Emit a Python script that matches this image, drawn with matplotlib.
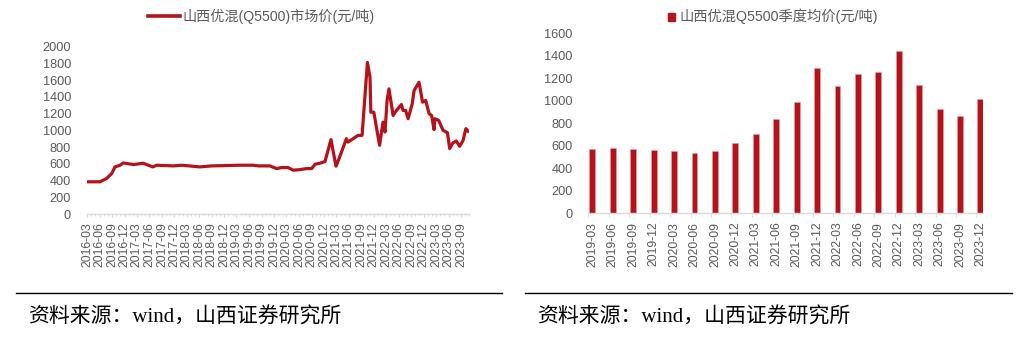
import matplotlib
matplotlib.use("Agg")
import matplotlib.pyplot as plt
import matplotlib.dates as mdates
from matplotlib.lines import Line2D
from matplotlib.patches import Rectangle
import numpy as np
import pandas as pd

# Left chart: Shanxi blended coal (Q5500) market price, yuan/t
price_dates = [
    "2016-03-03", "2016-06-04", "2016-07-23", "2016-08-29", "2016-09-22",
    "2016-10-29", "2016-11-22", "2017-02-05", "2017-04-17", "2017-06-25",
    "2017-07-24", "2017-11-24", "2018-01-24", "2018-06-06", "2018-09-01",
    "2019-03-25", "2019-07-01", "2019-08-10", "2019-11-01", "2019-12-20",
    "2020-01-25", "2020-03-13", "2020-04-19", "2020-06-07", "2020-07-26",
    "2020-09-02", "2020-09-26", "2020-11-02", "2020-12-08", "2021-01-21",
    "2021-02-27", "2021-03-26", "2021-05-14", "2021-05-26", "2021-08-08",
    "2021-09-06", "2021-10-15", "2021-11-03", "2021-11-09", "2021-12-01",
    "2022-01-12", "2022-02-06", "2022-02-21", "2022-03-08", "2022-03-22",
    "2022-04-21", "2022-05-16", "2022-06-21", "2022-07-03", "2022-07-22",
    "2022-08-09", "2022-09-08", "2022-09-22", "2022-10-28", "2022-11-23",
    "2022-12-16", "2023-01-10", "2023-01-28", "2023-02-15", "2023-02-21",
    "2023-03-21", "2023-04-22", "2023-05-24", "2023-06-10", "2023-07-03",
    "2023-07-28", "2023-08-22", "2023-09-16", "2023-10-06", "2023-10-22",
]
price_values = [
    385, 385, 425, 484, 563,
    583, 610, 591, 607, 563,
    583, 575, 583, 563, 575,
    583, 583, 575, 575, 543,
    555, 555, 524, 530, 543,
    543, 595, 607, 627, 889,
    571, 682, 900, 860, 940,
    940, 1812, 1634, 1217, 1217,
    821, 1098, 980, 1357, 1496,
    1178, 1238, 1309, 1238, 1238,
    1139, 1317, 1476, 1575, 1337,
    1357, 1198, 1178, 1008, 1139,
    1119, 1000, 972, 782, 849,
    873, 809, 881, 1020, 991,
]

# Right chart: quarterly average price
quarters = [
    "2019-03", "2019-06", "2019-09", "2019-12", "2020-03", "2020-06",
    "2020-09", "2020-12", "2021-03", "2021-06", "2021-09", "2021-12",
    "2022-03", "2022-06", "2022-09", "2022-12", "2023-03", "2023-06",
    "2023-09", "2023-12",
]
quarter_avg = [
    570, 578, 570, 560, 550, 532, 550, 622, 708, 840,
    992, 1289, 1132, 1241, 1256, 1440, 1138, 927, 866, 1013,
]

RED = "#B5121B"
GRAY = "#595959"
AXIS_GRAY = "#D9D9D9"
SANS = ["Liberation Sans", "Noto Sans CJK SC"]
SERIF = ["Liberation Serif", "Noto Sans CJK SC"]

plt.rcParams["font.family"] = SANS

W, H = 1032, 347
fig = plt.figure(figsize=(W / 100, H / 100), dpi=100)


def fx(px):
    return px / W


def fy(py):
    return 1 - py / H


# ---- left: line chart
ax1 = fig.add_axes([fx(87), fy(214), fx(469.4) - fx(87), (214 - 46.7) / H])
dates = pd.to_datetime(price_dates)
ax1.plot(dates, price_values, color=RED, lw=2.3, solid_joinstyle="round")
ax1.set_ylim(0, 2000)
ax1.set_yticks(np.arange(0, 2001, 200))
ax1.set_xlim(pd.Timestamp("2016-03-01"), pd.Timestamp("2023-11-01"))
xt = pd.date_range("2016-03-01", "2023-09-01", freq="3MS")
ax1.set_xticks(xt)
ax1.set_xticklabels([d.strftime("%Y-%m") for d in xt], rotation=90)
ax1.xaxis.set_minor_locator(mdates.MonthLocator())

# ---- right: bar chart
ax2 = fig.add_axes([fx(588), fy(213.3), fx(983) - fx(588), 180 / H])
pos = np.arange(len(quarters))
ax2.bar(pos + 0.05, quarter_avg, width=0.29, align="edge", color=RED,
        edgecolor="#E8A0A0", linewidth=0.4)
ax2.set_ylim(0, 1600)
ax2.set_yticks(np.arange(0, 1601, 200))
ax2.set_xlim(-0.02, len(quarters) - 0.68)
ax2.set_xticks(pos + 0.2)
ax2.set_xticklabels(quarters, rotation=90)
ax2.set_xticks(pos, minor=True)

for ax, ypad in ((ax1, 11.5), (ax2, 11)):
    for s in ("left", "right", "top"):
        ax.spines[s].set_visible(False)
    ax.spines["bottom"].set_color(AXIS_GRAY)
    ax.spines["bottom"].set_linewidth(1.0)
    ax.tick_params(axis="y", length=0, pad=ypad, labelsize=9.2, labelcolor=GRAY)
    ax.tick_params(axis="x", which="major", labelsize=8.8, labelcolor=GRAY,
                   color=AXIS_GRAY, pad=3.5)
    ax.tick_params(axis="x", which="minor", color=AXIS_GRAY, length=1.5)
    ax.set_facecolor("none")

ax1.tick_params(axis="x", which="major", length=2.5)
ax2.tick_params(axis="x", which="major", length=0, pad=6)
ax2.tick_params(axis="x", which="minor", length=3)

# ---- legends (drawn by hand to sit above each plot)
fig.add_artist(Line2D([fx(148), fx(180)], [fy(16), fy(16)], color=RED, lw=2.6,
                      transform=fig.transFigure))
fig.text(fx(182), fy(16), "山西优混(Q5500)市场价(元/吨)", fontsize=10.2,
         color=GRAY, va="center", ha="left")
fig.add_artist(Rectangle((fx(668), fy(20.5)), fx(7), 7.5 / H, color=RED,
                         transform=fig.transFigure))
fig.text(fx(679), fy(16), "山西优混Q5500季度均价(元/吨)", fontsize=10.3,
         color=GRAY, va="center", ha="left")

# ---- separators and source notes
for x0, x1, tx in ((16, 502, 28), (525, 1012, 537)):
    fig.add_artist(Line2D([fx(x0), fx(x1)], [fy(293), fy(293)], color="black",
                          lw=1.0, transform=fig.transFigure))
    fig.text(fx(tx), fy(318), "资料来源：wind，山西证券研究所", fontsize=15,
             color="black", va="center", ha="left", family=SERIF)

fig.savefig("out.png", dpi=100)
